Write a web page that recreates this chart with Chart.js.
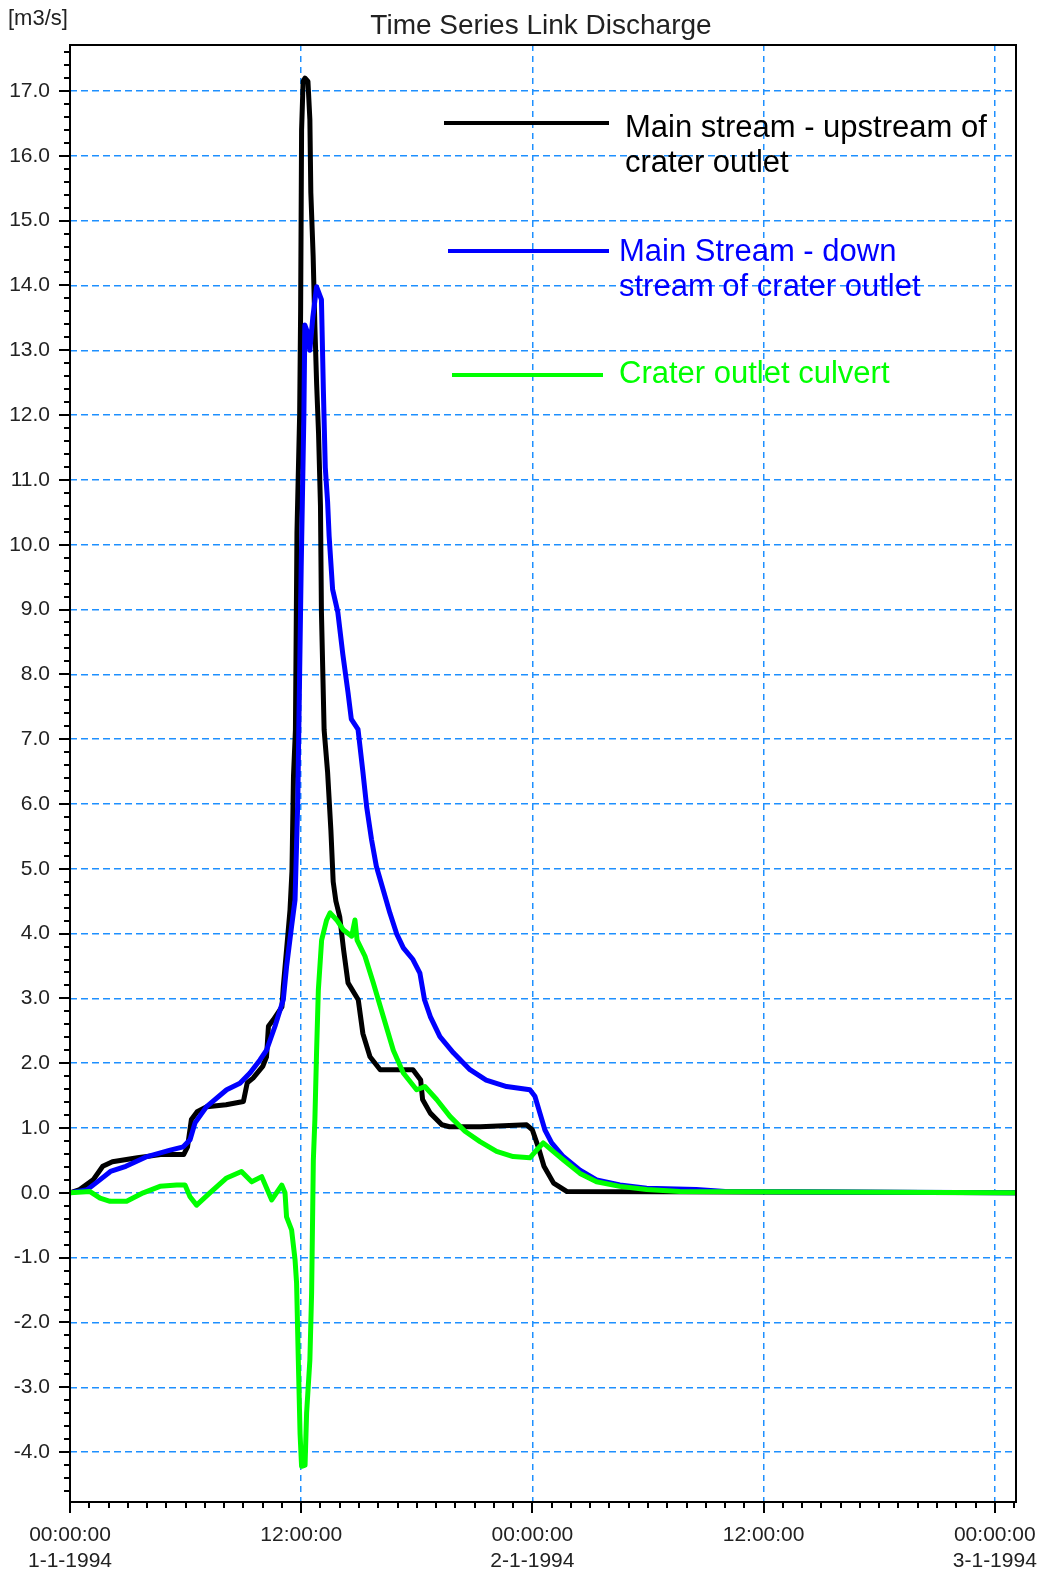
<!DOCTYPE html>
<html>
<head>
<meta charset="utf-8">
<title>Time Series Link Discharge</title>
<script src="https://cdn.jsdelivr.net/npm/chart.js@4.4.0/dist/chart.umd.min.js"></script>
<style>
  html, body { margin: 0; padding: 0; background: #fff; }
  #wrap { width: 1046px; height: 1575px; }
</style>
</head>
<body>
<div id="wrap"><canvas id="dischargeChart" width="1046" height="1575"></canvas></div>
<script>
// Hours since 1-1-1994 00:00 and discharge in m3/s
const upstreamHours = [0, 0.5, 1.2, 1.7, 2.2, 3.5, 4.7, 5.9, 6.1, 6.3, 6.6, 7.1, 8.1, 9.0, 9.2, 9.5,
  10.0, 10.2, 10.3, 10.55, 11.0, 11.07, 11.24, 11.42, 11.52, 11.6, 11.7, 11.78, 11.92, 11.97,
  12.02, 12.1, 12.2, 12.35, 12.45, 12.5, 12.62, 12.71, 12.8, 12.9, 13.0, 13.05, 13.19, 13.37,
  13.54, 13.66, 13.8, 14.0, 14.2, 14.43, 14.96, 15.2, 15.57, 16.1, 17.8, 18.2, 18.3, 18.7,
  19.3, 19.7, 21.3, 23.7, 24.0, 24.3, 24.6, 25.1, 25.8, 49.1];
const upstreamFlow = [0, 0.05, 0.2, 0.41, 0.48, 0.54, 0.59, 0.59, 0.71, 1.13, 1.25, 1.33, 1.36, 1.41, 1.7, 1.77,
  1.95, 2.1, 2.57, 2.67, 2.87, 3.18, 3.75, 4.37, 4.96, 6.43, 7.14, 10.19, 12.02, 13.6,
  16.4, 17.15, 17.2, 17.15, 16.56, 15.43, 14.45, 13.37, 12.49, 11.72, 10.6, 8.96, 7.14, 6.49,
  5.6, 4.8, 4.5, 4.26, 3.75, 3.24, 2.98, 2.46, 2.1, 1.9, 1.9, 1.74, 1.44, 1.23,
  1.05, 1.02, 1.02, 1.05, 0.97, 0.71, 0.41, 0.15, 0.02, 0];

const downstreamHours = [0, 0.9, 1.55, 2.1, 2.9, 4.0, 5.2, 5.88, 6.23, 6.49, 7.09, 8.13, 8.82, 9.34, 9.86,
  10.2, 10.64, 11.07, 11.24, 11.5, 11.68, 11.82, 12.0, 12.14, 12.19, 12.3, 12.45, 12.6, 12.8,
  13.05, 13.15, 13.25, 13.37, 13.45, 13.63, 13.9, 14.16, 14.43, 14.6, 14.95, 15.2, 15.4, 15.65,
  15.9, 16.25, 16.6, 16.95, 17.3, 17.8, 18.16, 18.4, 18.7, 19.2, 19.9, 20.76, 21.6, 22.66,
  23.87, 24.13, 24.39, 24.65, 25.0, 25.6, 26.47, 27.33, 28.54, 29.93, 32.5, 34.0, 49.1];
const downstreamFlow = [0, 0.05, 0.2, 0.33, 0.41, 0.56, 0.66, 0.71, 0.82, 1.08, 1.33, 1.59, 1.69, 1.85, 2.05,
  2.2, 2.57, 2.98, 3.49, 4.11, 4.52, 6.02, 9.66, 12.02, 13.39, 13.3, 13.0, 13.5, 13.98,
  13.78, 12.39, 11.19, 10.66, 10.13, 9.31, 8.96, 8.31, 7.72, 7.31, 7.15, 6.5, 5.95, 5.45,
  5.04, 4.68, 4.32, 4.0, 3.78, 3.6, 3.39, 2.98, 2.72, 2.41, 2.16, 1.9, 1.74, 1.64,
  1.59, 1.49, 1.23, 0.97, 0.77, 0.56, 0.35, 0.2, 0.12, 0.07, 0.05, 0.02, 0];

const culvertHours = [0, 1.04, 1.56, 2.08, 2.94, 3.8, 4.67, 5.54, 5.97, 6.23, 6.57, 7.26, 8.13, 8.9, 9.43,
  9.95, 10.47, 10.99, 11.16, 11.24, 11.5, 11.68, 11.76, 11.85, 11.94, 12.02, 12.2, 12.28, 12.45,
  12.54, 12.63, 12.71, 12.8, 12.89, 13.06, 13.32, 13.5, 13.84, 14.18, 14.62, 14.79, 14.9, 15.31,
  15.74, 16.26, 16.78, 17.3, 17.99, 18.42, 19.03, 19.72, 20.5, 21.28, 22.14, 23.0, 23.87, 24.22,
  24.56, 25.0, 25.6, 26.47, 27.33, 28.54, 29.93, 31.65, 49.1];
const culvertFlow = [0, 0.02, -0.08, -0.13, -0.13, 0, 0.1, 0.12, 0.12, -0.06, -0.19, 0, 0.23, 0.33, 0.17,
  0.25, -0.11, 0.12, 0, -0.37, -0.57, -1.03, -1.39, -2.58, -3.71, -4.22, -4.2, -3.4, -2.58,
  -1.55, 0.5, 1.13, 2.2, 3.13, 3.9, 4.21, 4.32, 4.21, 4.06, 3.96, 4.21, 3.9, 3.65,
  3.24, 2.72, 2.2, 1.85, 1.59, 1.64, 1.44, 1.18, 0.95, 0.79, 0.64, 0.56, 0.54, 0.66,
  0.77, 0.66, 0.51, 0.3, 0.17, 0.1, 0.05, 0.02, 0];

// Axis ticks
const timeTickHours = [0, 12, 24, 36, 48];
const timeTickLabels = [['00:00:00', '1-1-1994'], '12:00:00', ['00:00:00', '2-1-1994'], '12:00:00', ['00:00:00', '3-1-1994']];
const flowTicks = [-4, -3, -2, -1, 0, 1, 2, 3, 4, 5, 6, 7, 8, 9, 10, 11, 12, 13, 14, 15, 16, 17];

const seriesNames = ['Main stream - upstream of crater outlet', 'Main Stream - down stream of crater outlet', 'Crater outlet culvert'];
const legendLines = [['Main stream - upstream of', 'crater outlet'], ['Main Stream - down', 'stream of crater outlet'], ['Crater outlet culvert']];
const seriesColors = ['#000000', '#0000ff', '#00ff00'];

const xMax = 49.1;
const yMin = -4.77;
const yMax = 17.71;
const FONT = '"Liberation Sans", Arial, sans-serif';

function toPoints(hours, flow) {
  return hours.map((h, i) => ({ x: h, y: flow[i] }));
}

// Draws the frame, minor ticks, title, unit label and the in-plot legend
const decorations = {
  id: 'decorations',
  afterDraw(chart) {
    const ctx = chart.ctx;
    const area = chart.chartArea;
    const xs = chart.scales.x;
    const ys = chart.scales.y;
    ctx.save();

    ctx.strokeStyle = '#000';
    ctx.lineWidth = 2;
    ctx.beginPath();
    for (let h = 0; h <= Math.floor(xMax); h++) {
      const px = Math.round(xs.getPixelForValue(h));
      const len = h % 12 === 0 ? 11 : 6;
      ctx.moveTo(px, area.bottom);
      ctx.lineTo(px, area.bottom + len);
    }
    for (let k = Math.ceil(yMin * 5); k <= Math.floor(yMax * 5); k++) {
      const py = Math.round(ys.getPixelForValue(k / 5));
      const len = k % 5 === 0 ? 11 : 6;
      ctx.moveTo(area.left, py);
      ctx.lineTo(area.left - len, py);
    }
    ctx.stroke();
    ctx.strokeRect(area.left, area.top, area.right - area.left, area.bottom - area.top);

    // title + unit
    ctx.fillStyle = '#222';
    ctx.textAlign = 'center';
    ctx.textBaseline = 'alphabetic';
    ctx.font = '28px ' + FONT;
    ctx.fillText('Time Series Link Discharge', 541, 34);
    ctx.textAlign = 'left';
    ctx.font = '22px ' + FONT;
    ctx.fillText('[m3/s]', 8, 25);

    // legend
    const legendRows = [
      { x0: 444, x1: 609, y: 123, tx: 625, ty: [137, 172] },
      { x0: 448, x1: 609, y: 251, tx: 619, ty: [261, 296] },
      { x0: 452, x1: 603, y: 375, tx: 619, ty: [383] }
    ];
    ctx.font = '31px ' + FONT;
    legendRows.forEach((row, i) => {
      ctx.strokeStyle = seriesColors[i];
      ctx.lineWidth = 4;
      ctx.beginPath();
      ctx.moveTo(row.x0, row.y);
      ctx.lineTo(row.x1, row.y);
      ctx.stroke();
      ctx.fillStyle = seriesColors[i];
      legendLines[i].forEach((line, j) => ctx.fillText(line, row.tx, row.ty[j]));
    });

    ctx.restore();
  }
};

const dischargeChart = new Chart(document.getElementById('dischargeChart'), {
  type: 'line',
  data: {
    datasets: [
      {
        label: seriesNames[2],
        data: toPoints(culvertHours, culvertFlow),
        borderColor: seriesColors[2],
        order: 1
      },
      {
        label: seriesNames[1],
        data: toPoints(downstreamHours, downstreamFlow),
        borderColor: seriesColors[1],
        order: 2
      },
      {
        label: seriesNames[0],
        data: toPoints(upstreamHours, upstreamFlow),
        borderColor: seriesColors[0],
        order: 3
      }
    ]
  },
  options: {
    responsive: false,
    animation: false,
    devicePixelRatio: 1,
    layout: { padding: { top: 45, right: 30, left: 0, bottom: 0 } },
    plugins: {
      legend: { display: false },
      tooltip: { enabled: false }
    },
    elements: {
      point: { radius: 0 },
      line: { tension: 0, borderWidth: 5, fill: false, borderJoinStyle: 'round' }
    },
    scales: {
      x: {
        type: 'linear',
        min: 0,
        max: xMax,
        afterFit(scale) {
          scale.height = 73;
          scale.paddingLeft = 0;
          scale.paddingRight = 0;
        },
        afterBuildTicks(scale) { scale.ticks = timeTickHours.map(v => ({ value: v })); },
        ticks: {
          autoSkip: false,
          maxRotation: 0,
          includeBounds: false,
          padding: 20,
          color: '#222',
          font: { family: FONT, size: 21, lineHeight: 1.25 },
          callback: (value) => timeTickLabels[timeTickHours.indexOf(value)]
        },
        grid: { color: '#1e90ff', lineWidth: 1.5, drawTicks: false },
        border: { display: false, dash: [6, 5] }
      },
      y: {
        min: yMin,
        max: yMax,
        afterFit(scale) {
          scale.width = 70;
          scale.paddingTop = 0;
          scale.paddingBottom = 0;
        },
        afterBuildTicks(scale) { scale.ticks = flowTicks.map(v => ({ value: v })); },
        ticks: {
          includeBounds: false,
          padding: 20,
          color: '#222',
          font: { family: FONT, size: 21 },
          callback: (value) => value.toFixed(1)
        },
        grid: { color: '#1e90ff', lineWidth: 1.5, drawTicks: false },
        border: { display: false, dash: [7, 4] }
      }
    }
  },
  plugins: [decorations]
});
</script>
</body>
</html>
